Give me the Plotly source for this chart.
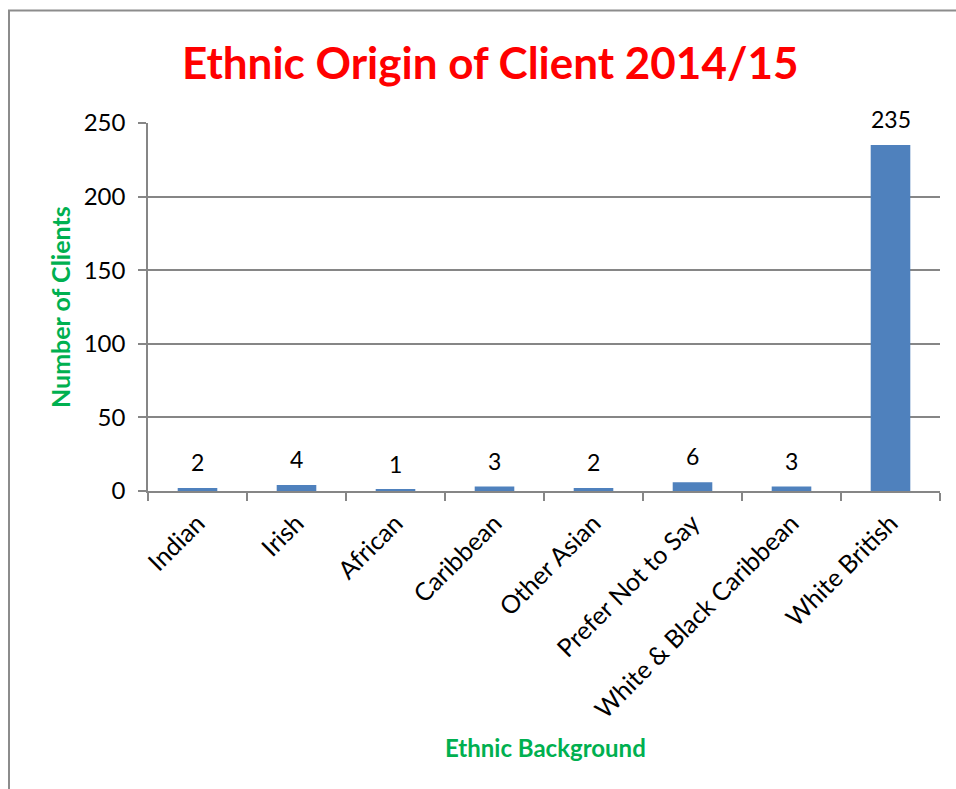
import plotly.graph_objects as go

categories = ["Indian", "Irish", "African", "Caribbean", "Other Asian",
              "Prefer Not to Say", "White & Black Caribbean", "White British"]
clients = [2, 4, 1, 3, 2, 6, 3, 235]
y_ticks = [0, 50, 100, 150, 200, 250]

W, H = 956, 789
L, R, T, B = 148, 940, 123, 491  # plot area in pixels


def px_x(px):
    return (px - L) / (R - L)


def px_y(py):
    return (B - py) / (B - T)


FONT = "Lato, 'Open Sans', sans-serif"
GRAY = "#868686"
GREEN = "#00B050"

fig = go.Figure(go.Bar(
    x=categories, y=clients,
    marker=dict(color="#4F81BD", line=dict(width=0)),
    hoverinfo="x+y",
))

annotations = [
    dict(text="<b>Ethnic Origin of Client 2014/15</b>", x=px_x(490), y=px_y(62),
         xref="paper", yref="paper", showarrow=False, xanchor="center", yanchor="middle",
         font=dict(family=FONT, size=44, color="#FF0000")),
    dict(text="<b>Number of Clients</b>", x=px_x(60), y=px_y(307), textangle=-90,
         xref="paper", yref="paper", showarrow=False, xanchor="center", yanchor="middle",
         font=dict(family=FONT, size=25, color=GREEN)),
    dict(text="<b>Ethnic Background</b>", x=px_x(545), y=px_y(747),
         xref="paper", yref="paper", showarrow=False, xanchor="center", yanchor="middle",
         font=dict(family=FONT, size=24, color=GREEN)),
]
for c, v in zip(categories, clients):
    annotations.append(dict(text=str(v), x=c, y=v, xref="x", yref="y", showarrow=False,
                            xanchor="center", yanchor="middle", yshift=26,
                            font=dict(family=FONT, size=23, color="#000000")))

fig.update_layout(
    width=W, height=H,
    margin=dict(l=L, r=W - R, t=T, b=H - B, pad=0),
    paper_bgcolor="white", plot_bgcolor="white",
    bargap=0.6, showlegend=False,
    annotations=annotations,
    shapes=[dict(type="rect", xref="paper", yref="paper",
                 x0=px_x(9), x1=px_x(1000), y0=px_y(10.5), y1=px_y(850),
                 line=dict(color="#8C8C8C", width=2), fillcolor="rgba(0,0,0,0)",
                 layer="below")],
)
fig.update_xaxes(
    showline=True, linecolor=GRAY, linewidth=1.5,
    ticks="outside", tickson="boundaries", ticklen=8, tickcolor=GRAY, tickwidth=1.5,
    tickangle=-45, tickfont=dict(family=FONT, size=25, color="#000000"),
    ticklabelstandoff=6,
    showgrid=False, fixedrange=True,
)
fig.update_yaxes(
    range=[0, 250], tickvals=y_ticks,
    showline=True, linecolor=GRAY, linewidth=1.5,
    ticks="outside", ticklen=8, tickcolor=GRAY, tickwidth=1.5,
    showgrid=True, gridcolor=GRAY, gridwidth=1.5,
    tickfont=dict(family=FONT, size=24, color="#000000"),
    ticklabelstandoff=8,
    zeroline=False, fixedrange=True,
)

fig.write_html("out.html", config={"displayModeBar": False})
